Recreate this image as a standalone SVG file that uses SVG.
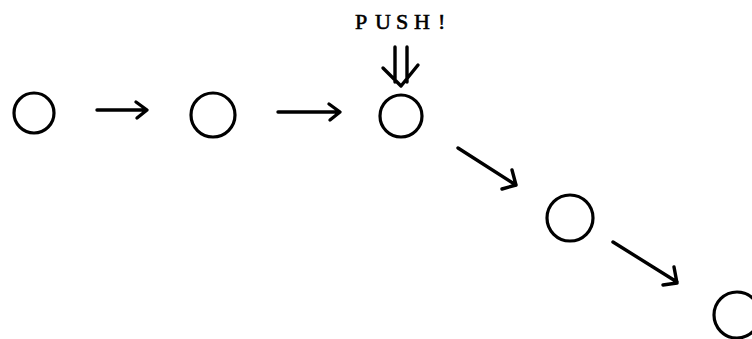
<svg xmlns="http://www.w3.org/2000/svg" width="752" height="339" viewBox="0 0 752 339">
<style>
.n{fill:none;stroke:#000;stroke-width:3.2}
.c{fill:none;stroke:#000;stroke-width:3.4;stroke-linecap:round;stroke-linejoin:round}
.t{font-family:"Liberation Serif",serif;font-size:22px;fill:#000;stroke:#000;stroke-width:0.6}
</style>
<rect width="752" height="339" fill="#fff"/>
<text class="t" x="355 375 396 414 438" y="29">PUSH!</text>
<g id="connectors">
<path class="c" d="M97 110 H146 M136 102 L147 110 L137 118"/>
<path class="c" d="M278 112 H339 M329 104 L340 112 L330 120"/>
<path class="c" d="M395 47 V82 M407 47 V82 M383 68 L401 86 L418 65"/>
<path class="c" d="M458 148 L516 185 M512 170 L516 185 L502 189"/>
<path class="c" d="M613 242 L677 282 M674 267 L677 283 L663 285"/>
</g>
<g id="n1"><circle class="n" cx="34" cy="113" r="20"/></g>
<g id="n2"><circle class="n" cx="213" cy="115" r="22"/></g>
<g id="n3"><circle class="n" cx="401" cy="116" r="21"/></g>
<g id="n4"><circle class="n" cx="570" cy="218" r="23"/></g>
<g id="n5"><circle class="n" cx="737" cy="315" r="23"/></g>
</svg>
